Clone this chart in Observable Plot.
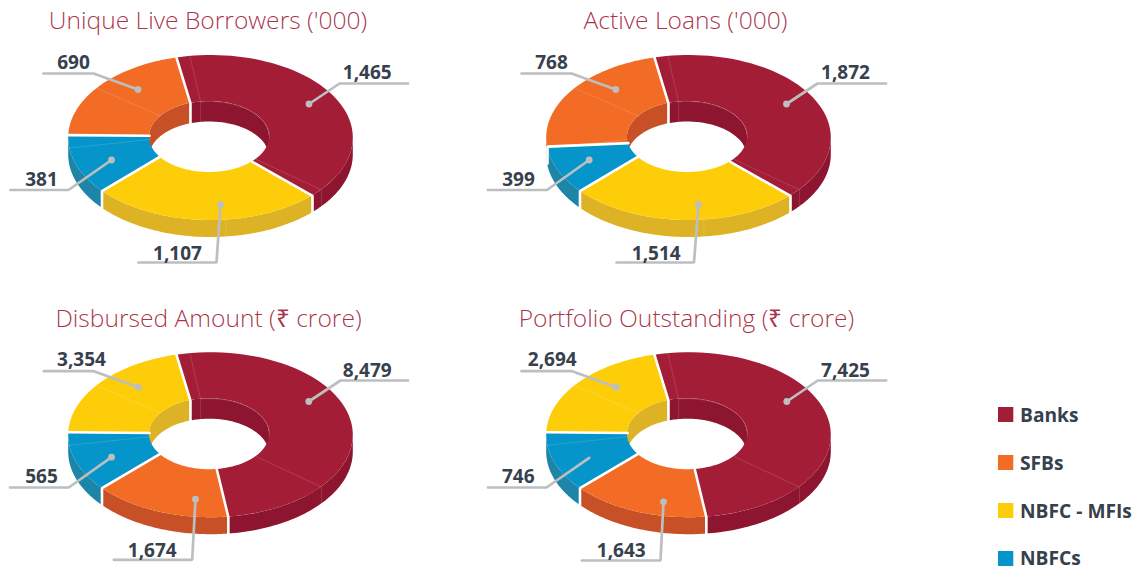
<!DOCTYPE html>
<html>
<head>
<meta charset="utf-8">
<style>html,body{margin:0;padding:0;background:#fff;overflow:hidden}svg{display:block}</style>
<script src="https://cdn.jsdelivr.net/npm/d3@7"></script>
<script src="https://cdn.jsdelivr.net/npm/@observablehq/plot@0.6"></script>
</head>
<body>
<div id="chart"></div>
<script>
// ---- Data ----
const categories = ["Banks", "SFBs", "NBFC - MFIs", "NBFCs"];
const titles = ["Unique Live Borrowers ('000)", "Active Loans ('000)", "Disbursed Amount (₹ crore)", "Portfolio Outstanding (₹ crore)"];
const borrowers = [1465, 690, 1107, 381];
const activeLoans = [1872, 768, 1514, 399];
const disbursed = [8479, 1674, 3354, 565];
const portfolio = [7425, 1643, 2694, 746];

// Ring order, clockwise from the top of each doughnut (indexes into categories)
const ringOrderTop = [0, 2, 3, 1];
const ringOrderBottom = [0, 1, 3, 2];
// Degrees each slice occupies as drawn in the picture (it is an illustrative ring)
const sweepBorrowers = [148.5, 95.5, 42, 74];
const sweepLoans = [148.5, 95.5, 34, 82];
const sweepDisbursed = [187, 57, 42, 74];
const sweepPortfolio = [187, 57, 42, 74];

// ---- Styles and layout, separate from the data ----
const faceColors = ["#a31d37", "#f26c25", "#fecd0a", "#0595ca"];
const sideColors = ["#8d1530", "#c75027", "#ddb325", "#1c85a8"];
const textColor = "#36414d";
const leaderColor = "#bcbec0";
const ring = {rx: 142.3, ry: 82.5, holeRx: 60, holeRy: 35.5, holeDx: -1.5, holeDy: -1, side: 17, wall: 20.5, start: -14};
const origins = [[210.5, 137.5], [688.5, 137.5], [210.5, 434.7], [688.5, 434.7]];
const titleAnchors = [[207.5, 28.5], [685, 28.5], [208, 326.7], [686, 326.7]];
// inner-edge angle differs a little from the outer one at some slice boundaries
const innerShiftTop = [-4.5, 0, 6, 0];
const innerShiftLoans = [-4.5, 0, 6, -4];

// leader per category: dot x,y, elbow x,y, end x, label x,y, dot shown
const leaders = [
  [[308.5,103.5,339,83,407.5,366.7,78.5,1],[137.5,89,93,73,43,73,68,1],[220,204,216,262,138,177,259,1],[111,159.5,68,189.5,10,41,185,1]],
  [[786,103.5,817,83,885.5,845,78.5,1],[615.3,89,571,73,521,551,68,1],[698,204,693.5,262,616,655.7,259,1],[588.7,159.5,546.5,189.5,487.5,518,185,1]],
  [[308.3,401,340,380,407.5,366.7,376.7,1],[195,498.7,191.7,559.3,113.3,151.7,556,1],[137.7,386.7,93.3,370.7,43.3,81,365.7,1],[111,456.7,68.3,487,9.5,41,482.7,1]],
  [[786.3,401,817.3,380,885.7,845,376.7,1],[663,501.3,660,560,581.3,620.7,556,1],[615.7,386.7,571.7,370.7,521,551.7,365.7,1],[588.7,457.3,546,487,487.5,517.7,482.7,0]]
];
const legendY = [407, 455, 503, 551];
const legendBaseline = [421, 469, 517, 564];

const panels = [
  {values: borrowers, order: ringOrderTop, sweep: sweepBorrowers, shift: innerShiftTop},
  {values: activeLoans, order: ringOrderTop, sweep: sweepLoans, shift: innerShiftLoans},
  {values: disbursed, order: ringOrderBottom, sweep: sweepDisbursed, shift: innerShiftTop},
  {values: portfolio, order: ringOrderBottom, sweep: sweepPortfolio, shift: innerShiftTop}
];

// ---- Ring geometry in the x/y data space ----
const rad = Math.PI / 180;
const outerPt = (o, a, drop = 0) => [o[0] + ring.rx * Math.sin(a * rad), o[1] - ring.ry * Math.cos(a * rad) + drop];
const innerPt = (o, a, drop = 0) => [o[0] + ring.holeDx + ring.holeRx * Math.sin(a * rad), o[1] + ring.holeDy - ring.holeRy * Math.cos(a * rad) + drop];
const steps = (a, b) => d3.range(0, 61).map(i => a + (b - a) * i / 60);

const faceRows = [], sideRows = [], wallRows = [], separatorRows = [], seamRows = [], rimRows = [];
panels.forEach((p, pi) => {
  const o = origins[pi];
  const edges = [ring.start];
  p.sweep.forEach(s => edges.push(edges[edges.length - 1] + s));
  const inner = edges.map((e, i) => e + p.shift[i % 4]);
  p.order.forEach((cat, i) => {
    const id = pi + "-" + i;
    const a0 = edges[i], a1 = edges[i + 1], b0 = inner[i], b1 = i === 3 ? inner[0] + 360 : inner[i + 1];
    // top face
    steps(0, 1).forEach(t => {
      const [ox, oy] = outerPt(o, a0 + (a1 - a0) * t);
      const [ix, iy] = innerPt(o, b0 + (b1 - b0) * t);
      faceRows.push({id, fill: faceColors[cat], x1: ix, y1: iy, x2: ox, y2: oy});
    });
    // outer side, front half only
    const s0 = Math.max(a0, 90), s1 = Math.min(a1, 270);
    if (s1 > s0) steps(s0, s1).forEach(a => {
      const [x, y] = outerPt(o, a);
      sideRows.push({id, fill: sideColors[cat], x1: x, y1: y, x2: x, y2: y + ring.side});
    });
    // inner wall, far half only: arcs -90..90 and 270..450
    [[-90, 90], [270, 450]].forEach(([lo, hi], k) => {
      const w0 = Math.max(b0, lo), w1 = Math.min(b1, hi);
      if (w1 > w0) steps(w0, w1).forEach(a => {
        const [x, y] = innerPt(o, a);
        wallRows.push({id: id + "-" + k, fill: sideColors[cat], x1: x, y1: y, x2: x, y2: y + ring.wall});
      });
    });
    // white separator at the start of the slice; it runs down a wall only when that wall is clearly on view
    const sid = "s" + id;
    const pts = [];
    const na = ((b0 % 360) + 360) % 360;
    if (na > 280 || na < 80) pts.push(innerPt(o, b0, ring.wall));
    pts.push(innerPt(o, b0), outerPt(o, a0));
    const oa = ((a0 % 360) + 360) % 360;
    if (oa > 90 && oa < 270) pts.push(outerPt(o, a0, ring.side));
    pts.forEach(([x, y]) => separatorRows.push({id: sid, x, y}));
  });
  // faint seams left in the artwork
  const seam = (key, pts) => pts.forEach(([x, y]) => seamRows.push({id: pi + key, x, y}));
  seam("a", [innerPt(o, -8.5, ring.wall), innerPt(o, -8.5), outerPt(o, -8.5)]);
  seam("b", [innerPt(o, 129), outerPt(o, 129), outerPt(o, 129, ring.side)]);
  seam("c", [innerPt(o, 306), outerPt(o, 307)]);
  seam("d", [innerPt(o, 266), outerPt(o, 263)]);
  if (pi < 2) seam("e", [outerPt(o, 174), outerPt(o, 174, ring.side)]);
  steps(-8, 92).forEach(a => { const [x, y] = innerPt(o, a); rimRows.push({id: pi, x, y}); });
});

const leaderRows = [], dotRows = [], labelRows = [];
panels.forEach((p, pi) => p.values.forEach((v, cat) => {
  const [dx, dy, ex, ey, fx, lx, ly, shown] = leaders[pi][cat];
  const id = pi + "-" + cat;
  leaderRows.push({id, x: dx, y: dy}, {id, x: ex, y: ey}, {id, x: fx, y: ey});
  if (shown) dotRows.push({x: dx, y: dy});
  labelRows.push({x: lx, y: ly, text: d3.format(",")(v)});
}));
const titleRows = titles.map((text, i) => ({text, x: titleAnchors[i][0], y: titleAnchors[i][1]}));
const legendRows = categories.map((name, i) => ({name, fill: faceColors[i], x1: 998, x2: 1013.3, y1: legendY[i], y2: legendY[i] + 15, base: legendBaseline[i]}));

const band = rows => Plot.area(rows, {x1: "x1", y1: "y1", x2: "x2", y2: "y2", z: "id", fill: "fill"});
const font = "'Open Sans', sans-serif";

const plot = Plot.plot({
  width: 1146, height: 570,
  margin: 0,
  x: {domain: [0, 1146], range: [0, 1146], axis: null},
  y: {domain: [0, 570], range: [0, 570], axis: null},
  color: {type: "identity"},
  marks: [
    band(wallRows),
    band(sideRows),
    band(faceRows),
    Plot.line(rimRows, {x: "x", y: "y", z: "id", stroke: "#fff", strokeOpacity: 0.25, strokeWidth: 0.7}),
    Plot.line(seamRows, {x: "x", y: "y", z: "id", stroke: "#fff", strokeOpacity: 0.2, strokeWidth: 0.7}),
    Plot.line(separatorRows, {x: "x", y: "y", z: "id", stroke: "#fff", strokeWidth: 2.6, strokeLinejoin: "miter"}),
    Plot.line(leaderRows, {x: "x", y: "y", z: "id", stroke: leaderColor, strokeWidth: 2.7, strokeLinejoin: "miter"}),
    Plot.dot(dotRows, {x: "x", y: "y", r: 3.4, fill: leaderColor}),
    Plot.text(labelRows, {x: "x", y: "y", text: "text", lineAnchor: "bottom", textAnchor: "middle", fill: textColor, fontSize: 19, fontWeight: 700, fontFamily: font}),
    Plot.text(titleRows, {x: "x", y: "y", text: "text", lineAnchor: "bottom", textAnchor: "middle", fill: faceColors[0], fillOpacity: 0.92, fontSize: 24.6, fontWeight: 300, fontFamily: font}),
    Plot.rect(legendRows, {x1: "x1", x2: "x2", y1: "y1", y2: "y2", fill: "fill"}),
    Plot.text(legendRows, {x: () => 1019.5, y: "base", text: "name", lineAnchor: "bottom", textAnchor: "start", fill: textColor, fontSize: 19.2, fontWeight: 700, fontFamily: font})
  ]
});
document.getElementById("chart").append(plot);
</script>
</body>
</html>
